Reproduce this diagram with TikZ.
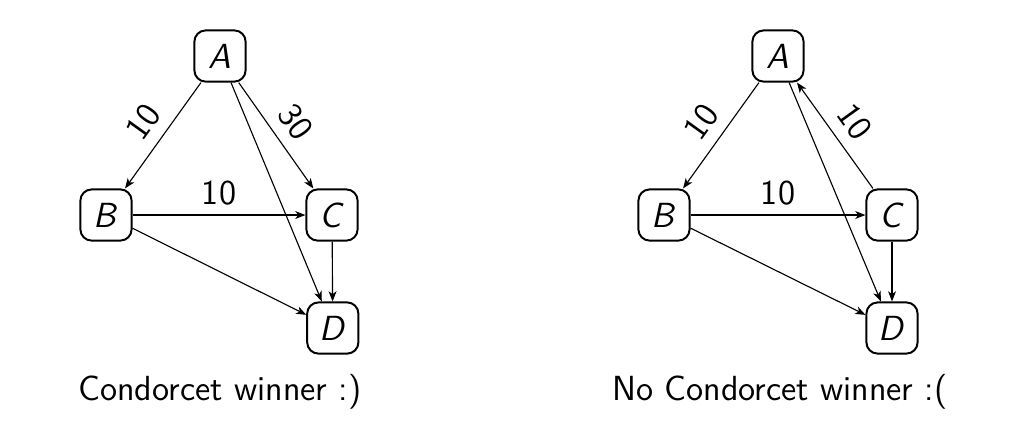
\documentclass[tikz,border=0pt]{standalone}
\usetikzlibrary{arrows.meta}
\begin{document}
\begin{tikzpicture}[
    font=\sffamily\fontsize{12.4}{15}\selectfont,
    vertex/.style={draw, line width=0.7pt, rounded corners=4pt, minimum size=0.64cm, inner sep=0pt},
    weight/.style={above, sloped, inner sep=4pt},
    caption/.style={anchor=base}
  ]
  \useasboundingbox (0,0) rectangle (12.625,-5.5875);
  % left graph
  \draw
    (2.75,-0.70) node[vertex] (A){\textit{A}}
    (1.325,-2.6875) node[vertex] (B){\textit{B}}
    (4.15,-2.6875) node[vertex] (C){\textit{C}}
    (4.16,-4.10) node[vertex] (D){\textit{D}};
  \begin{scope}[-{Stealth[length=3.6pt, width=2.8pt, inset=1pt]}]
    \draw (A) to node[weight]{10} (B);
    \draw (A) to node[weight]{30} (C);
    \draw (A) to (D);
    \draw (B) to node[above]{10} (C);
    \draw (B) to (D);
    \draw (C) to (D);
  \end{scope}
  \node[caption] (cap1) at (2.75,-5.01) {Condorcet winner :)};
  % right graph
  \draw
    (9.725,-0.70) node[vertex] (A2){\textit{A}}
    (8.30,-2.6875) node[vertex] (B2){\textit{B}}
    (11.15,-2.6875) node[vertex] (C2){\textit{C}}
    (11.15,-4.10) node[vertex] (D2){\textit{D}};
  \begin{scope}[-{Stealth[length=3.6pt, width=2.8pt, inset=1pt]}]
    \draw (A2) to node[weight]{10} (B2);
    \draw (C2) to node[weight]{10} (A2);
    \draw (A2) to (D2);
    \draw (B2) to node[above]{10} (C2);
    \draw (B2) to (D2);
    \draw (C2) to (D2);
  \end{scope}
  \node[caption] (cap2) at (9.75,-5.01) {No Condorcet winner :(};
\end{tikzpicture}
\end{document}
